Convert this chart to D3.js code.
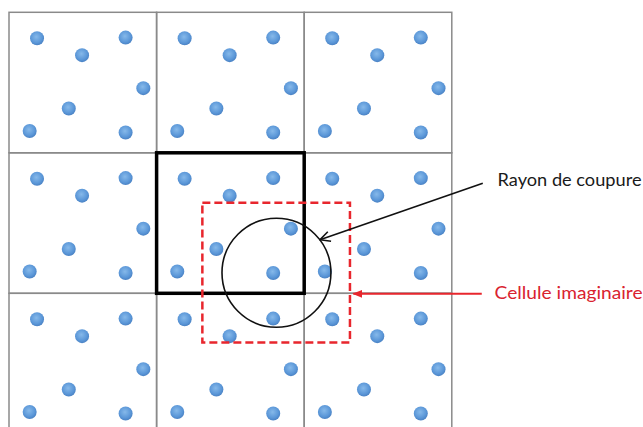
<!DOCTYPE html>
<html lang="en">
<head>
<meta charset="UTF-8">
<title>Cellule imaginaire</title>
<script src="https://cdn.jsdelivr.net/npm/d3@7"></script>
<style>
  body { margin: 0; background: #fff; }
</style>
</head>
<body>
<div id="chart"></div>
<script>
// 3x3 periodic cells, same particle pattern in each (positions in cell units)
var cellCols = [0, 1, 2];
var cellRows = [0, 1, 2];
var dotX = [0.19, 0.79, 0.495, 0.91, 0.405, 0.14, 0.79];
var dotY = [0.185, 0.18, 0.305, 0.54, 0.685, 0.845, 0.855];

// central (real) cell and the shifted imaginary cell
var centralCell = [1, 1];
var imagCell = [1.31, 1.355, 2.31, 2.35];   // x0, y0, x1, y1
var cutCenter = [1.812, 1.854];
var cutRadius = 0.369;

var labels = ["Rayon de coupure", "Cellule imaginaire"];

var w = 643, h = 427;
var svg = d3.select("#chart").append("svg")
    .attr("width", w)
    .attr("height", h);

var x = d3.scaleLinear().domain([0, 3]).range([9, 451.8]);
var y = d3.scaleLinear().domain([0, 3]).range([12.3, 433.8]);

var defs = svg.append("defs");
var grad = defs.append("radialGradient")
    .attr("id", "dotGrad")
    .attr("cx", "45%").attr("cy", "40%").attr("r", "60%");
grad.append("stop").attr("offset", "0%").attr("stop-color", "#86b9ea");
grad.append("stop").attr("offset", "70%").attr("stop-color", "#5b97d8");
grad.append("stop").attr("offset", "100%").attr("stop-color", "#4a82c4");

defs.append("marker")
    .attr("id", "arrowBlack")
    .attr("viewBox", "0 0 12 12")
    .attr("refX", 11).attr("refY", 6)
    .attr("markerWidth", 12).attr("markerHeight", 12)
    .attr("markerUnits", "userSpaceOnUse")
    .attr("orient", "auto")
    .append("path")
    .attr("d", "M1,1 L11,6 L1,11")
    .attr("fill", "none")
    .attr("stroke", "#111")
    .attr("stroke-width", 1.6);

defs.append("marker")
    .attr("id", "arrowRed")
    .attr("viewBox", "0 0 10 10")
    .attr("refX", 9).attr("refY", 5)
    .attr("markerWidth", 10).attr("markerHeight", 10)
    .attr("markerUnits", "userSpaceOnUse")
    .attr("orient", "auto")
    .append("path")
    .attr("d", "M0,1 L10,5 L0,9 Z")
    .attr("fill", "#e8262d");

// grid of cells
var cells = [];
cellRows.forEach(function(r) {
    cellCols.forEach(function(c) { cells.push({ c: c, r: r }); });
});

svg.selectAll("rect.cell")
    .data(cells)
    .enter().append("rect")
    .attr("class", "cell")
    .attr("x", function(d) { return x(d.c); })
    .attr("y", function(d) { return y(d.r); })
    .attr("width", function(d) { return x(d.c + 1) - x(d.c); })
    .attr("height", function(d) { return y(d.r + 1) - y(d.r); })
    .attr("fill", "none")
    .attr("stroke", "#8a8a8a")
    .attr("stroke-width", 1.5);

// particles
var dots = [];
cells.forEach(function(cell) {
    dotX.forEach(function(dx, i) {
        dots.push({ x: cell.c + dx, y: cell.r + dotY[i] });
    });
});

svg.selectAll("circle.dot")
    .data(dots)
    .enter().append("circle")
    .attr("class", "dot")
    .attr("cx", function(d) { return x(d.x); })
    .attr("cy", function(d) { return y(d.y); })
    .attr("r", 7)
    .attr("fill", "url(#dotGrad)");

// central cell, bold
svg.append("rect")
    .attr("x", x(centralCell[0]))
    .attr("y", y(centralCell[1]))
    .attr("width", x(centralCell[0] + 1) - x(centralCell[0]))
    .attr("height", y(centralCell[1] + 1) - y(centralCell[1]))
    .attr("fill", "none")
    .attr("stroke", "#000")
    .attr("stroke-width", 3.5);

// cutoff circle
svg.append("ellipse")
    .attr("cx", x(cutCenter[0]))
    .attr("cy", y(cutCenter[1]))
    .attr("rx", x(cutCenter[0] + cutRadius) - x(cutCenter[0]))
    .attr("ry", x(cutCenter[0] + cutRadius) - x(cutCenter[0]))
    .attr("fill", "none")
    .attr("stroke", "#111")
    .attr("stroke-width", 1.6);

// imaginary cell, red dashed
svg.append("rect")
    .attr("x", x(imagCell[0]))
    .attr("y", y(imagCell[1]))
    .attr("width", x(imagCell[2]) - x(imagCell[0]))
    .attr("height", y(imagCell[3]) - y(imagCell[1]))
    .attr("fill", "none")
    .attr("stroke", "#e8262d")
    .attr("stroke-width", 2.5)
    .attr("stroke-dasharray", "8,4");

// annotations
svg.append("line")
    .attr("x1", x(3.21)).attr("y1", y(1.216))
    .attr("x2", x(2.107)).attr("y2", y(1.619))
    .attr("stroke", "#111")
    .attr("stroke-width", 1.6)
    .attr("marker-end", "url(#arrowBlack)");

svg.append("line")
    .attr("x1", x(3.203)).attr("y1", y(2.004))
    .attr("x2", x(2.333)).attr("y2", y(2.004))
    .attr("stroke", "#e8262d")
    .attr("stroke-width", 2)
    .attr("marker-end", "url(#arrowRed)");

svg.append("text")
    .attr("x", x(3.31)).attr("y", y(1.235))
    .attr("font-family", "Lato, 'Open Sans', sans-serif")
    .attr("font-size", "17px")
    .attr("fill", "#1a1a1a")
    .attr("textLength", 144)
    .attr("lengthAdjust", "spacingAndGlyphs")
    .text(labels[0]);

svg.append("text")
    .attr("x", x(3.29)).attr("y", y(2.041))
    .attr("font-family", "Lato, 'Open Sans', sans-serif")
    .attr("font-size", "17px")
    .attr("fill", "#d92330")
    .attr("textLength", 148)
    .attr("lengthAdjust", "spacingAndGlyphs")
    .text(labels[1]);
</script>
</body>
</html>
